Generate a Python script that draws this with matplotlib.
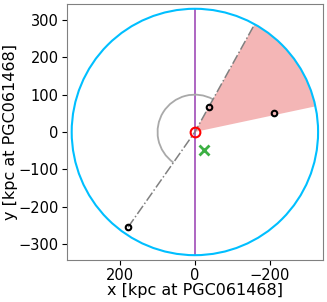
import numpy as np
import matplotlib
matplotlib.use("Agg")
import matplotlib.pyplot as plt
from matplotlib.patches import Circle, Wedge, Arc

# satellite positions (kpc), host at origin
sat_x = [-37, -213, 179]
sat_y = [67, 50, -255]
cross_x = [-24]
cross_y = [-47]

r_vir = 330
wedge_theta = [119, 168]
arc_r = 100
arc_theta = [-55, 119]

fig = plt.figure(figsize=(3.27, 3.02), dpi=100)
ax = fig.add_axes([0.204, 0.139, 0.784, 0.848])

ax.add_patch(Wedge((0, 0), r_vir, wedge_theta[0], wedge_theta[1],
                   facecolor='#f4b6b6', edgecolor='none', zorder=1))
ax.add_patch(Circle((0, 0), r_vir, fill=False, edgecolor='#00bfff', lw=1.5, zorder=3))
ax.plot([0, 0], [-r_vir, r_vir], color='#a04cb8', lw=1.2, zorder=2)
ax.add_patch(Arc((0, 0), 2 * arc_r, 2 * arc_r, theta1=arc_theta[0], theta2=arc_theta[1],
                 color='darkgray', lw=1.3, zorder=2))

# dash-dot line from far satellite through host to wedge edge
t = np.deg2rad(wedge_theta[0])
ax.plot([sat_x[2], 0, r_vir * np.cos(t)], [sat_y[2], 0, r_vir * np.sin(t)],
        color='gray', ls='-.', lw=1.1, zorder=2)

ax.plot(sat_x, sat_y, 'o', mfc='none', mec='black', ms=4, mew=1.5, zorder=4)
ax.plot([0], [0], 'o', mfc='none', mec='red', ms=7, mew=1.5, zorder=5)
ax.plot(cross_x, cross_y, 'x', color='#3cb043', ms=7, mew=2, zorder=4)

ax.set_xlim(343, -343)
ax.set_ylim(-343, 343)
ax.set_aspect('equal')
ax.set_xticks([200, 0, -200])
ax.set_yticks([-300, -200, -100, 0, 100, 200, 300])
ax.tick_params(labelsize=10.5, pad=2.5)
for s in ax.spines.values():
    s.set_color('gray')
ax.set_xlabel('x [kpc at PGC061468]', fontsize=11.5, labelpad=0)
ax.set_ylabel('y [kpc at PGC061468]', fontsize=11.5, labelpad=0)

fig.savefig('out.png', dpi=100)
